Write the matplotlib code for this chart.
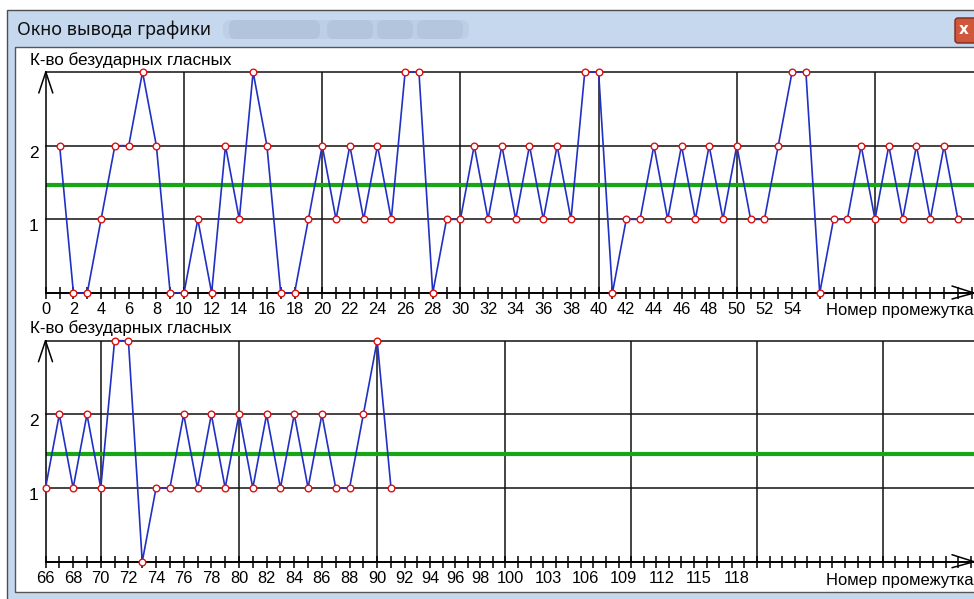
import numpy as np
import matplotlib.pyplot as plt
from matplotlib.patches import Rectangle, FancyBboxPatch
from matplotlib.transforms import ScaledTranslation

W, H = 974, 599

# interval numbers and count of unstressed vowels
top_x = list(range(1, 67))
top_y = [2, 0, 0, 1, 2, 2, 3, 2, 0, 0,
         1, 0, 2, 1, 3, 2, 0, 0, 1, 2,
         1, 2, 1, 2, 1, 3, 3, 0, 1, 1,
         2, 1, 2, 1, 2, 1, 2, 1, 3, 3,
         0, 1, 1, 2, 1, 2, 1, 2, 1, 2,
         1, 1, 2, 3, 3, 0, 1, 1, 2, 1,
         2, 1, 2, 1, 2, 1]
bot_x = list(range(66, 92))
bot_y = [1, 2, 1, 2, 1, 3, 3, 0, 1, 1, 2, 1, 2, 1, 2, 1, 2, 1, 2, 1, 2, 1, 1, 2, 3, 1]

top_ticks = list(range(0, 55, 2))
bot_ticks = list(range(66, 99, 2)) + list(range(100, 119, 3))
top_grid = [10, 20, 30, 40, 50, 60]
bot_grid = [70, 80, 90, 100, 110, 120, 130]

ylab = 'К-во безударных гласных'
xlab = 'Номер промежутка'

# mean over all intervals (66 is shown in both panels)
mean = (sum(top_y) + sum(bot_y[1:])) / (len(top_y) + len(bot_y) - 1)

NUM_FONT = ['Liberation Sans Narrow', 'Liberation Sans', 'DejaVu Sans']
TXT_FONT = ['Liberation Sans', 'DejaVu Sans']


def fwd(x):
    x = np.asarray(x, float)
    return np.where(x <= 92, x, 92 + (x - 92) * 0.91)


def inv(x):
    x = np.asarray(x, float)
    return np.where(x <= 92, x, 92 + (x - 92) / 0.91)


def px_box(x0, y0, x1, y1):
    return [x0 / W, 1 - y1 / H, (x1 - x0) / W, (y1 - y0) / H]


def arm(ax, xy, dx, dy):
    ax.annotate('', xy=xy, xycoords='axes fraction', xytext=(dx, dy),
                textcoords='offset pixels', annotation_clip=False,
                arrowprops=dict(arrowstyle='-', color='black', lw=1.1,
                                shrinkA=0, shrinkB=0))


def chart(ax, xs, ys, ticks, grid, xmin, xmax):
    ax.set_facecolor('none')
    ax.set_xlim(xmin, xmax)
    ax.set_ylim(0, 3)
    ax.spines['top'].set_visible(False)
    ax.spines['right'].set_visible(False)
    ax.spines['left'].set_linewidth(1.1)
    ax.spines['bottom'].set_linewidth(1.4)
    for v in (1, 2, 3):
        ax.axhline(v, color='#111111', lw=1.1, zorder=1, clip_on=False)
    for g in grid:
        ax.axvline(g, color='#111111', lw=1.1, zorder=1)
    ax.axhline(mean, color='#16a616', lw=3.0, zorder=2)
    ax.plot(xs, ys, color='#2030c4', lw=1.2, marker='o', ms=4.8,
            mfc='white', mec='#dd1111', mew=1.0, zorder=3, clip_on=False)
    ax.set_xticks(ticks)
    ax.set_xticklabels([str(t) for t in ticks], family=NUM_FONT, fontsize=11.8)
    ax.set_xticks(np.arange(int(xmin), int(xmax) + 1), minor=True)
    ax.tick_params(axis='x', which='both', direction='inout', length=8,
                   width=1.1, pad=2.5)
    ax.set_yticks([1, 2])
    ax.set_yticklabels(['1', '2'], family=NUM_FONT, fontsize=12.5)
    ax.tick_params(axis='y', length=0, pad=5)
    for lbl in ax.get_yticklabels():
        lbl.set_verticalalignment('top')
    arm(ax, (0, 1), -7, -21)
    arm(ax, (0, 1), 7, -21)
    arm(ax, (1, 0), -22, 7)
    arm(ax, (1, 0), -22, -6)


fig = plt.figure(figsize=(W / 100, H / 100), dpi=100)

# window chrome
bg = fig.add_axes([0, 0, 1, 1], zorder=-10)
bg.set_xlim(0, W)
bg.set_ylim(H, 0)
bg.axis('off')
bg.add_patch(Rectangle((7, 10), W, H, facecolor='#c5d8ee', edgecolor='#4d4d4d', lw=1.0))
grad = np.array([[0.0, 0.35, 0.7, 1.0, 0.6, 0.3, 0.1]])
bg.imshow(grad, cmap=plt.matplotlib.colors.LinearSegmentedColormap.from_list(
    'tb', ['#c4d8ef', '#dce9f8']), extent=(7.5, W, 46, 10.5), aspect='auto')
# blurred caption next to the title
for bx, bw, a in [(226, 240, 0.12), (232, 85, 0.18), (330, 40, 0.16), (380, 30, 0.16), (420, 40, 0.14)]:
    bg.add_patch(FancyBboxPatch((bx, 23), bw, 13, boxstyle='round,pad=3,rounding_size=7',
                                facecolor='#7f93ad', edgecolor='none', alpha=a))
bg.text(17, 29.5, 'Окно вывода графики', fontsize=13, family=['Noto Sans', 'DejaVu Sans'],
        color='#101010', va='center', ha='left')
bg.add_patch(FancyBboxPatch((955, 18), 30, 25, boxstyle='round,pad=0,rounding_size=3',
                            facecolor='#d0563c', edgecolor='#7a2a1a', lw=1.0))
bg.text(964, 30, 'x', fontsize=11, fontweight='bold', color='white', ha='center', va='center')
bg.add_patch(Rectangle((14.5, 47), W, 545, facecolor='white', edgecolor='#555555', lw=1.0))

bg.text(30, 60, ylab, fontsize=12.3, family=TXT_FONT, va='center', ha='left')
bg.text(30, 328, ylab, fontsize=12.3, family=TXT_FONT, va='center', ha='left')
bg.text(826, 311, xlab, fontsize=11.9, family=TXT_FONT, va='center', ha='left')
bg.text(826, 581, xlab, fontsize=11.9, family=TXT_FONT, va='center', ha='left')

# top panel
ax1 = fig.add_axes(px_box(45.8, 72, 974, 293))
chart(ax1, top_x, top_y, top_ticks, top_grid, 0, (974 - 45.8) / 13.82)

# bottom panel
ax2 = fig.add_axes(px_box(45.5, 340.7, 974, 561.7))
ax2.set_xscale('function', functions=(fwd, inv))
right = float(inv(66 + (974 - 45.5) / 13.82))
chart(ax2, bot_x, bot_y, bot_ticks, bot_grid, 66, right)
shift = ScaledTranslation(5 / 100, 0, fig.dpi_scale_trans)
for t, lbl in zip(ax2.xaxis.get_major_ticks(), ax2.get_xticklabels()):
    if len(lbl.get_text()) == 3:
        t.label1.set_transform(t.label1.get_transform() + shift)

fig.savefig('out.png', dpi=100)
